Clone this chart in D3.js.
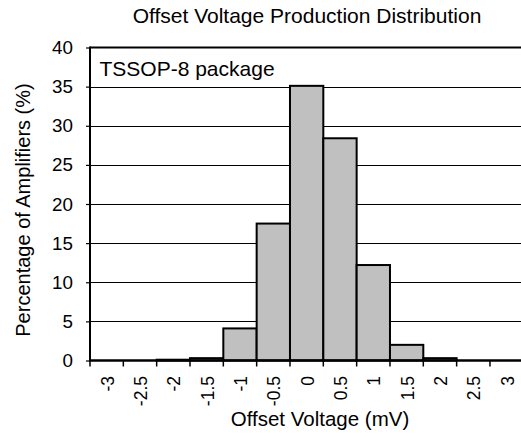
<!DOCTYPE html>
<html><head><meta charset="utf-8">
<script src="https://cdn.jsdelivr.net/npm/d3@7"></script>
<style>
html,body{margin:0;padding:0;background:#fff;}
svg{display:block;}
text{font-family:"Liberation Sans",Arial,sans-serif;fill:#000;}
</style></head>
<body>
<script>
const categories = ["-3","-2.5","-2","-1.5","-1","-0.5","0","0.5","1","1.5","2","2.5","3"];
const percentages = [0, 0, 0.1, 0.3, 4.1, 17.5, 35.1, 28.4, 12.2, 2.0, 0.3, 0, 0];
const yTicks = [0,5,10,15,20,25,30,35,40];
const title = "Offset Voltage Production Distribution";
const xTitle = "Offset Voltage (mV)";
const yTitle = "Percentage of Amplifiers (%)";
const note = "TSSOP-8 package";

const W = 521, H = 441;
const m = {left: 90, top: 47.5, bottom: 360.5};
const plotW = 433.3;

const svg = d3.select("body").append("svg").attr("width", W).attr("height", H);

const x = d3.scaleBand().domain(categories).range([m.left, m.left + plotW]).padding(0);
const y = d3.scaleLinear().domain([0, 40]).range([m.bottom, m.top]);

// gridlines
svg.append("g").selectAll("line").data(yTicks.filter(d => d > 0 && d < 40)).join("line")
  .attr("x1", m.left).attr("x2", m.left + plotW)
  .attr("y1", d => Math.round(y(d)) + 0.5).attr("y2", d => Math.round(y(d)) + 0.5)
  .attr("stroke", "#000").attr("stroke-width", 1);

// bars
svg.append("g").selectAll("rect").data(categories).join("rect")
  .attr("x", d => x(d)).attr("width", x.bandwidth())
  .attr("y", (d, i) => y(percentages[i]))
  .attr("height", (d, i) => y(0) - y(percentages[i]))
  .attr("fill", "#c0c0c0").attr("stroke", "#000").attr("stroke-width", 2);

// frame: top and left
svg.append("line").attr("x1", m.left).attr("x2", m.left + plotW).attr("y1", m.top).attr("y2", m.top)
  .attr("stroke", "#000").attr("stroke-width", 2);
svg.append("line").attr("x1", m.left).attr("x2", m.left).attr("y1", m.top - 1).attr("y2", m.bottom + 1)
  .attr("stroke", "#000").attr("stroke-width", 2);
// baseline
svg.append("line").attr("x1", m.left).attr("x2", m.left + plotW).attr("y1", m.bottom).attr("y2", m.bottom)
  .attr("stroke", "#000").attr("stroke-width", 2.5);

// y axis ticks + labels
const yAxis = d3.axisLeft(y).tickValues(yTicks).tickSize(4).tickPadding(13).tickFormat(d3.format("d"));
const gy = svg.append("g").attr("transform", `translate(${m.left},0)`).call(yAxis);
gy.select(".domain").remove();
gy.selectAll(".tick line").attr("stroke", "#000").attr("stroke-width", 1.2);
gy.selectAll(".tick text").attr("font-size", "18.8px").attr("font-family", "Liberation Sans, Arial, sans-serif").attr("fill", "#000");

// x ticks at band edges
const edges = categories.map(c => x(c));
svg.append("g").selectAll("line").data(edges).join("line")
  .attr("x1", d => d).attr("x2", d => d).attr("y1", m.bottom).attr("y2", m.bottom + 6)
  .attr("stroke", "#000").attr("stroke-width", 1.5);

// x labels rotated, at band centers
const xAxis = d3.axisBottom(x).tickSize(0).tickPadding(0);
const gx = svg.append("g").attr("transform", `translate(0,${m.bottom})`).call(xAxis);
gx.select(".domain").remove();
gx.selectAll(".tick text")
  .attr("font-size", "17.5px").attr("font-family", "Liberation Sans, Arial, sans-serif").attr("fill", "#000")
  .attr("text-anchor", "end").attr("dy", "0.38em")
  .attr("transform", "translate(0.5,15.5) rotate(-90)")
  .attr("x", 0).attr("y", 0);

// titles
svg.append("text").attr("x", 307).attr("y", 23).attr("text-anchor", "middle")
  .attr("font-size", "21px").text(title);
svg.append("text").attr("x", 320).attr("y", 425.5).attr("text-anchor", "middle")
  .attr("font-size", "20.5px").text(xTitle);
svg.append("text").attr("transform", "translate(30,210) rotate(-90)").attr("text-anchor", "middle")
  .attr("font-size", "20px").text(yTitle);
svg.append("text").attr("x", 99.5).attr("y", 76).attr("font-size", "21px").text(note);
</script>
</body></html>
